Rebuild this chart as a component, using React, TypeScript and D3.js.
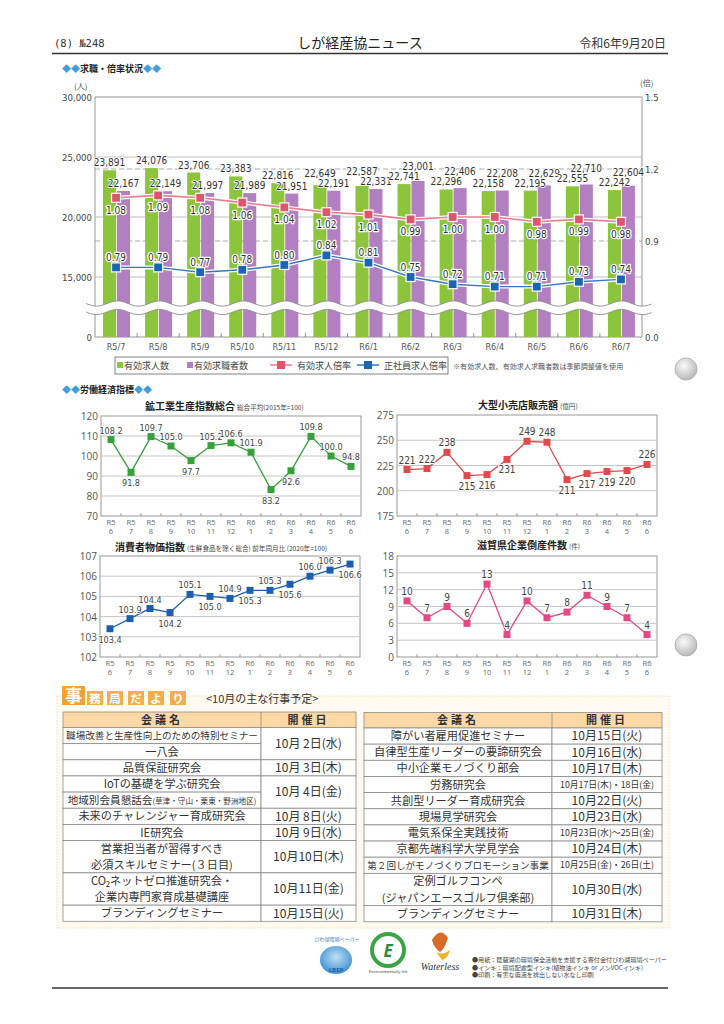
import React from "react";
import * as d3 from "d3";

// ---- 求職・倍率状況 ----
const months = ["R5/7", "R5/8", "R5/9", "R5/10", "R5/11", "R5/12", "R6/1", "R6/2", "R6/3", "R6/4", "R6/5", "R6/6", "R6/7"];
const jobOffers = [23891, 24076, 23706, 23383, 22816, 22649, 22587, 22741, 22296, 22158, 22195, 22555, 22242];
const jobSeekers = [22167, 22149, 21997, 21989, 21951, 22191, 22331, 23001, 22406, 22208, 22629, 22710, 22604];
const offerRatio = [1.08, 1.09, 1.08, 1.06, 1.04, 1.02, 1.01, 0.99, 1.0, 1.0, 0.98, 0.99, 0.98];
const regularRatio = [0.79, 0.79, 0.77, 0.78, 0.8, 0.84, 0.81, 0.75, 0.72, 0.71, 0.71, 0.73, 0.74];
const countTicks = [0, 15000, 20000, 25000, 30000];
const ratioTicks = [0, 0.9, 1.2, 1.5];

// ---- 労働経済指標 ----
const indexMonths = ["R5/6", "R5/7", "R5/8", "R5/9", "R5/10", "R5/11", "R5/12", "R6/1", "R6/2", "R6/3", "R6/4", "R6/5", "R6/6"];
const ipiValues = [108.2, 91.8, 109.7, 105.0, 97.7, 105.2, 106.6, 101.9, 83.2, 92.6, 109.8, 100.0, 94.8];
const retailValues = [221, 222, 238, 215, 216, 231, 249, 248, 211, 217, 219, 220, 226];
const cpiValues = [103.4, 103.9, 104.4, 104.2, 105.1, 105.0, 104.9, 105.3, 105.3, 105.6, 106.0, 106.3, 106.6];
const bankruptcyValues = [10, 7, 9, 6, 13, 4, 10, 7, 8, 11, 9, 7, 4];
const ipiTicks = [70, 80, 90, 100, 110, 120];
const retailTicks = [175, 200, 225, 250, 275];
const cpiTicks = [102, 103, 104, 105, 106, 107];
const bankruptcyTicks = [0, 3, 6, 9, 12, 15, 18];

// ---- 10月の主な行事予定 ----
const leftSchedule = [
  { names: ["職場改善と生産性向上のための特別セミナー", "一八会"], date: "10月 2日(水)" },
  { names: ["品質保証研究会"], date: "10月 3日(木)" },
  { names: ["IoTの基礎を学ぶ研究会", "地域別会員懇話会|(草津・守山・栗東・野洲地区)"], date: "10月 4日(金)" },
  { names: ["未来のチャレンジャー育成研究会"], date: "10月 8日(火)" },
  { names: ["IE研究会"], date: "10月 9日(水)" },
  { names: ["営業担当者が習得すべき\n必須スキルセミナー(３日目)"], date: "10月10日(木)" },
  { names: ["CO₂ネットゼロ推進研究会・\n企業内専門家育成基礎講座"], date: "10月11日(金)" },
  { names: ["ブランディングセミナー"], date: "10月15日(火)" },
];
const rightSchedule = [
  { names: ["障がい者雇用促進セミナー"], date: "10月15日(火)" },
  { names: ["自律型生産リーダーの要諦研究会"], date: "10月16日(水)" },
  { names: ["中小企業モノづくり部会"], date: "10月17日(木)" },
  { names: ["労務研究会"], date: "10月17日(木)・18日(金)" },
  { names: ["共創型リーダー育成研究会"], date: "10月22日(火)" },
  { names: ["現場見学研究会"], date: "10月23日(水)" },
  { names: ["電気系保全実践技術"], date: "10月23日(水)～25日(金)" },
  { names: ["京都先端科学大学見学会"], date: "10月24日(木)" },
  { names: ["第２回しがモノづくりプロモーション事業"], date: "10月25日(金)・26日(土)" },
  { names: ["定例ゴルフコンペ\n(ジャパンエースゴルフ倶楽部)"], date: "10月30日(水)" },
  { names: ["ブランディングセミナー"], date: "10月31日(木)" },
];

const JP = "'Noto Sans CJK JP','Noto Sans',sans-serif";
const NARROW = "'Liberation Sans Narrow','DejaVu Sans Condensed','Noto Sans',sans-serif";
const SANS = "'Open Sans','Noto Sans',sans-serif";

const fmt = d3.format(",");

const halo = { paintOrder: "stroke" as const, stroke: "#fff", strokeWidth: 2.5, strokeLinejoin: "round" as const };

function JobChart() {
  const L = 95, R = 642, T = 97, B = 337;
  const x = d3.scaleBand().domain(months).range([L, R]);
  const xi = d3.scaleBand().domain(["offer", "seek"]).range([8, 35]).paddingInner(0.06);
  const yL = d3.scaleLinear().domain([0, 12500, 30000]).range([B, 307, T]);
  const yR = d3.scaleLinear().domain([0, 0.6, 1.5]).range([B, 313, T]);
  const cx = (m: string) => (x(m) as number) + x.bandwidth() / 2;
  const ratioLine = d3.line<number>().x((_, i) => cx(months[i])).y((v) => yR(v));

  const waveXs = d3.range(86, 652.5, 1.5);
  const wy = (d: number) => 2.6 * Math.sin(((d - 86) / 42) * 2 * Math.PI);
  const gap = d3.area<number>().x((d) => d).y0((d) => 303.5 + wy(d)).y1((d) => 312 + wy(d));
  const waveTop = d3.line<number>().x((d) => d).y((d) => 303.5 + wy(d));
  const waveBot = d3.line<number>().x((d) => d).y((d) => 312 + wy(d));

  // bar label baselines with collision lift
  const labelY = months.map((_, i) => {
    let g = yL(jobOffers[i]) - 4;
    let p = yL(jobSeekers[i]) - 4;
    if (Math.abs(g - p) < 10) {
      if (jobOffers[i] >= jobSeekers[i]) g = p - 10;
      else p = g - 10;
    }
    return { g, p };
  });

  return (
    <g>
      <rect x={L} y={T} width={R - L} height={B - T} fill="#fff" stroke="#8a8a8a" strokeWidth={0.9} />
      {[15000, 20000, 25000].map((t) => (
        <line key={t} x1={L} x2={R} y1={yL(t)} y2={yL(t)} stroke="#b8b8b8" strokeWidth={0.9} />
      ))}
      {[0.9, 1.2].map((t) => (
        <line key={t} x1={L} x2={R} y1={yR(t)} y2={yR(t)} stroke="#a0a0a0" strokeWidth={0.9} strokeDasharray="5,3" />
      ))}
      {months.map((m, i) => (
        <g key={m}>
          <rect x={(x(m) as number) + (xi("offer") as number)} y={yL(jobOffers[i])} width={xi.bandwidth()} height={B - yL(jobOffers[i])} fill="#8cc43c" />
          <rect x={(x(m) as number) + (xi("seek") as number)} y={yL(jobSeekers[i])} width={xi.bandwidth()} height={B - yL(jobSeekers[i])} fill="#b27fc1" />
        </g>
      ))}
      {/* axis break */}
      <path d={gap(waveXs) as string} fill="#fff" />
      <path d={waveTop(waveXs) as string} fill="none" stroke="#8a8a8a" strokeWidth={0.9} />
      <path d={waveBot(waveXs) as string} fill="none" stroke="#8a8a8a" strokeWidth={0.9} />
      {/* x ticks */}
      {months.slice(1).map((m) => (
        <line key={m} x1={x(m)} x2={x(m)} y1={B} y2={B - 4} stroke="#777" strokeWidth={0.8} />
      ))}
      {/* bar labels */}
      {months.map((m, i) => (
        <g key={m} fontFamily={NARROW} fontSize={10} fill="#333" textAnchor="middle">
          <text x={(x(m) as number) + (xi("offer") as number) + xi.bandwidth() / 2} y={labelY[i].g} {...halo} strokeWidth={1.5}>
            {fmt(jobOffers[i])}
          </text>
          <text x={(x(m) as number) + (xi("seek") as number) + xi.bandwidth() / 2} y={labelY[i].p} {...halo} strokeWidth={1.5}>
            {fmt(jobSeekers[i])}
          </text>
        </g>
      ))}
      {/* ratio lines */}
      <path d={ratioLine(offerRatio) as string} fill="none" stroke="#fff" strokeWidth={4} />
      <path d={ratioLine(offerRatio) as string} fill="none" stroke="#e97b8f" strokeWidth={1.6} />
      <path d={ratioLine(regularRatio) as string} fill="none" stroke="#fff" strokeWidth={4} />
      <path d={ratioLine(regularRatio) as string} fill="none" stroke="#3478c0" strokeWidth={1.4} />
      {months.map((m, i) => (
        <g key={m}>
          <rect x={cx(m) - 4.5} y={yR(offerRatio[i]) - 4.5} width={9} height={9} fill="#e2536d" stroke="#fff" strokeWidth={1.2} />
          <rect x={cx(m) - 4.5} y={yR(regularRatio[i]) - 4.5} width={9} height={9} fill="#1b66b4" stroke="#fff" strokeWidth={1.2} />
          <text x={cx(m)} y={yR(offerRatio[i]) + 16} textAnchor="middle" fontFamily={NARROW} fontSize={10} fill="#333" {...halo}>
            {offerRatio[i].toFixed(2)}
          </text>
          <text x={cx(m)} y={yR(regularRatio[i]) - 6.5} textAnchor="middle" fontFamily={NARROW} fontSize={10} fill="#333" {...halo}>
            {regularRatio[i].toFixed(2)}
          </text>
        </g>
      ))}
      {/* axes labels */}
      {countTicks.map((t) => (
        <text key={t} x={L - 3} y={yL(t) + 3.5} textAnchor="end" fontFamily={NARROW} fontSize={9.5} fill="#444">
          {fmt(t)}
        </text>
      ))}
      {ratioTicks.map((t) => (
        <text key={t} x={R + 3} y={yR(t) + 3.5} fontFamily={NARROW} fontSize={9.5} fill="#444">
          {t.toFixed(1)}
        </text>
      ))}
      <text x={74} y={89} fontSize={8} fill="#555" fontFamily={JP}>(人)</text>
      <text x={640} y={86} fontSize={8} fill="#555" fontFamily={JP}>(倍)</text>
      {months.map((m) => (
        <text key={m} x={cx(m)} y={350} textAnchor="middle" fontFamily={NARROW} fontSize={9} fill="#555">
          {m}
        </text>
      ))}
      {/* legend */}
      <rect x={115} y={357} width={333} height={17} fill="#fff" stroke="#777" strokeWidth={0.9} />
      <g fontFamily={JP} fontSize={9} fill="#444">
        <rect x={117} y={362} width={6} height={6} fill="#8cc43c" />
        <text x={124} y={368.5}>有効求人数</text>
        <rect x={187} y={362} width={6} height={6} fill="#b27fc1" />
        <text x={194} y={368.5}>有効求職者数</text>
        <line x1={270} x2={292} y1={365} y2={365} stroke="#e97b8f" strokeWidth={1.5} />
        <rect x={277} y={361} width={8} height={8} fill="#e2536d" />
        <text x={297} y={368.5}>有効求人倍率</text>
        <line x1={357} x2={379} y1={365} y2={365} stroke="#3478c0" strokeWidth={1.5} />
        <rect x={364} y={361} width={8} height={8} fill="#1b66b4" />
        <text x={384} y={368.5}>正社員求人倍率</text>
      </g>
      <text x={453} y={368.5} fontFamily={JP} fontSize={7.1} fill="#555">※有効求人数、有効求人求職者数は季節調整値を使用</text>
    </g>
  );
}

type LineProps = {
  values: number[];
  L: number; R: number; T: number; B: number;
  domain: [number, number];
  ticks: number[];
  color: string;
  title: string; sub: string; tx: number; ty: number;
  below: number[];
  digits: number;
};

function IndexChart({ values, L, R, T, B, domain, ticks, color, title, sub, tx, ty, below, digits }: LineProps) {
  const x = d3.scalePoint().domain(indexMonths).range([L + 10, R - 10]);
  const y = d3.scaleLinear().domain(domain).range([B, T]);
  const line = d3.line<number>().x((_, i) => x(indexMonths[i]) as number).y((v) => y(v));
  const step = x.step();
  return (
    <g>
      <text x={tx} y={ty} fontFamily={JP} fill="#222">
        <tspan fontSize={10} fontWeight="bold">{title}</tspan>
        <tspan fontSize={6.6} fill="#444" dx={2}>{sub}</tspan>
      </text>
      <rect x={L} y={T} width={R - L} height={B - T} fill="#fff" stroke="#8d8d8d" strokeWidth={0.9} />
      {ticks.slice(1, -1).map((t) => (
        <line key={t} x1={L} x2={R} y1={y(t)} y2={y(t)} stroke="#bdbdbd" strokeWidth={0.9} />
      ))}
      {ticks.map((t) => (
        <text key={t} x={L - 3} y={y(t) + 4} textAnchor="end" fontFamily={SANS} fontSize={10} fill="#555">
          {t}
        </text>
      ))}
      {indexMonths.slice(1).map((m) => (
        <line key={m} x1={(x(m) as number) - step / 2} x2={(x(m) as number) - step / 2} y1={B} y2={B - 3} stroke="#888" strokeWidth={0.8} />
      ))}
      {indexMonths.map((m) => {
        const [era, mo] = m.split("/");
        return (
          <g key={m} fontFamily={SANS} fontSize={7.5} fill="#666" textAnchor="middle">
            <text x={x(m)} y={B + 8.5}>{era}</text>
            <text x={x(m)} y={B + 18}>{mo}</text>
          </g>
        );
      })}
      <path d={line(values) as string} fill="none" stroke={color} strokeWidth={1.3} />
      {values.map((v, i) => (
        <rect key={i} x={(x(indexMonths[i]) as number) - 3.5} y={y(v) - 3.5} width={7} height={7} fill={color} />
      ))}
      {values.map((v, i) => (
        <text
          key={i}
          x={x(indexMonths[i]) as number}
          y={below.includes(i) ? y(v) + 14 : y(v) - 6}
          textAnchor="middle"
          fontFamily={NARROW}
          fontSize={digits ? 9 : 10}
          fill="#444"
          {...halo}
          strokeWidth={1.5}
        >
          {v.toFixed(digits)}
        </text>
      ))}
    </g>
  );
}

const units = (s: string) =>
  Array.from(s).reduce((a, c) => a + (c === " " ? 0.3 : c.charCodeAt(0) < 0x2000 ? 0.58 : 1), 0);

type Sched = { names: string[]; date: string }[];

function ScheduleTable({ data, x0, nameW, dateW, top }: { data: Sched; x0: number; nameW: number; dateW: number; top: number }) {
  const headH = 15.5;
  const lineH = 16.15;
  let yy = top + headH;
  const cells: React.ReactNode[] = [];
  data.forEach((g, gi) => {
    const gTop = yy;
    g.names.forEach((n, ni) => {
      const lines = n.split("\n");
      const h = lines.length * lineH;
      cells.push(<rect key={`n${gi}-${ni}`} x={x0} y={yy} width={nameW} height={h} fill="#fff" stroke="#8a8a8a" strokeWidth={0.8} />);
      const [main, note] = lines[0].split("|");
      if (note) {
        const fs = 10.6;
        cells.push(
          <text key={`t${gi}-${ni}`} x={x0 + nameW / 2} y={yy + h / 2 + 4} textAnchor="middle" fontFamily={JP} fill="#333">
            <tspan fontSize={fs}>{main}</tspan>
            <tspan fontSize={7.6}>{note}</tspan>
          </text>
        );
      } else {
        const fs = Math.min(11.2, ...lines.map((l) => (nameW - 6) / units(l)));
        lines.forEach((l, li) => {
          cells.push(
            <text key={`t${gi}-${ni}-${li}`} x={x0 + nameW / 2} y={yy + lineH * li + lineH / 2 + fs * 0.36} textAnchor="middle" fontFamily={JP} fontSize={fs} fill="#333">
              {l}
            </text>
          );
        });
      }
      yy += h;
    });
    const gh = yy - gTop;
    const dfs = Math.min(12, (dateW - 6) / units(g.date));
    cells.push(<rect key={`d${gi}`} x={x0 + nameW} y={gTop} width={dateW} height={gh} fill="#fff" stroke="#8a8a8a" strokeWidth={0.8} />);
    cells.push(
      <text key={`dt${gi}`} x={x0 + nameW + dateW / 2} y={gTop + gh / 2 + dfs * 0.36} textAnchor="middle" fontFamily={JP} fontSize={dfs} fill="#333">
        {g.date}
      </text>
    );
  });
  return (
    <g>
      <rect x={x0} y={top} width={nameW + dateW} height={headH} fill="#fcd9a4" stroke="#8a8a8a" strokeWidth={0.8} />
      <line x1={x0 + nameW} x2={x0 + nameW} y1={top} y2={top + headH} stroke="#8a8a8a" strokeWidth={0.8} />
      <text x={x0 + nameW / 2} y={top + 11.5} textAnchor="middle" fontFamily={JP} fontSize={11} fontWeight="bold" fill="#333" letterSpacing={3}>
        会議名
      </text>
      <text x={x0 + nameW + dateW / 2} y={top + 11.5} textAnchor="middle" fontFamily={JP} fontSize={11} fontWeight="bold" fill="#333" letterSpacing={3}>
        開催日
      </text>
      {cells}
    </g>
  );
}

function SectionHead({ x, y, label }: { x: number; y: number; label: string }) {
  return (
    <text x={x} y={y} fontFamily={JP} fontSize={9} fontWeight="bold" fill="#222">
      <tspan fill="#3f9edb">◆◆</tspan>
      <tspan>{label}</tspan>
      <tspan fill="#3f9edb">◆◆</tspan>
    </text>
  );
}

export default function App() {
  const tabChars = ["務", "局", "だ", "よ", "り"];
  const tabX = [87, 107, 128, 148, 170];
  return (
    <svg width={724} height={1024} viewBox="0 0 724 1024" style={{ position: "absolute", left: 0, top: 0, background: "#fff" }}>
      <defs>
        <radialGradient id="hole" cx="40%" cy="35%" r="70%">
          <stop offset="0%" stopColor="#fafafa" />
          <stop offset="100%" stopColor="#b5b5b5" />
        </radialGradient>
        <radialGradient id="lbep" cx="50%" cy="40%" r="60%">
          <stop offset="0%" stopColor="#bfe0f5" />
          <stop offset="100%" stopColor="#3d8fd0" />
        </radialGradient>
      </defs>
      <rect width={724} height={1024} fill="#fff" />

      {/* page header */}
      <text x={54} y={47} fontFamily="'DejaVu Sans Mono',monospace" fontSize={10.5} fill="#333">(8) №248</text>
      <text x={360} y={48} textAnchor="middle" fontFamily={JP} fontSize={14} fill="#222">しが経産協ニュース</text>
      <text x={666} y={48} textAnchor="end" fontFamily={JP} fontSize={12} fill="#333">令和6年9月20日</text>
      <line x1={52} x2={668} y1={53.5} y2={53.5} stroke="#333" strokeWidth={1.6} />

      <SectionHead x={62} y={72} label="求職・倍率状況" />
      <JobChart />

      <SectionHead x={62} y={393} label="労働経済指標" />
      <IndexChart values={ipiValues} L={101} R={361} T={416} B={516} domain={[70, 120]} ticks={ipiTicks} color="#36a03a"
        title="鉱工業生産指数総合" sub="総合平均(2015年=100)" tx={145} ty={410} below={[1, 4, 8, 9]} digits={1} />
      <IndexChart values={retailValues} L={397} R={657} T={415} B={516} domain={[175, 275]} ticks={retailTicks} color="#e04a4c"
        title="大型小売店販売額" sub="(億円)" tx={478} ty={409} below={[3, 4, 5, 8, 9, 10, 11]} digits={0} />
      <IndexChart values={cpiValues} L={100} R={360} T={556} B={657} domain={[102, 107]} ticks={cpiTicks} color="#1d5fae"
        title="消費者物価指数" sub="(生鮮食品を除く総合) 前年同月比 (2020年=100)" tx={115} ty={551} below={[0, 3, 5, 7, 9, 12]} digits={1} />
      <IndexChart values={bankruptcyValues} L={397} R={657} T={556} B={657} domain={[0, 18]} ticks={bankruptcyTicks} color="#e24a86"
        title="滋賀県企業倒産件数" sub="(件)" tx={477} ty={549} below={[]} digits={0} />

      {/* 事務局だより */}
      <rect x={57} y={696} width={612} height={232} fill="#fffaf0" stroke="#efdcb4" strokeWidth={0.9} strokeDasharray="1.5,1.5" />
      <rect x={62} y={686} width={23} height={19} fill="#f0a23a" />
      <text x={73.5} y={702} textAnchor="middle" fontFamily={JP} fontSize={17} fontWeight="bold" fill="#fff">事</text>
      {tabChars.map((c, i) => (
        <g key={c}>
          <rect x={tabX[i]} y={691} width={16} height={14} fill="#f3ad4c" />
          <text x={tabX[i] + 8} y={702.5} textAnchor="middle" fontFamily={JP} fontSize={11.5} fontWeight="bold" fill="#fff">{c}</text>
        </g>
      ))}
      <text x={206} y={703} fontFamily={JP} fontSize={11} fill="#333">&lt;10月の主な行事予定&gt;</text>
      <ScheduleTable data={leftSchedule} x0={63} nameW={198} dateW={95} top={712} />
      <ScheduleTable data={rightSchedule} x0={364} nameW={188} dateW={110} top={712.5} />

      {/* footer */}
      <g>
        <ellipse cx={336} cy={960} rx={16} ry={14} fill="url(#lbep)" />
        <text x={336} y={972} textAnchor="middle" fontFamily={SANS} fontSize={6} fontWeight="bold" fill="#1d5fae">LBEP</text>
        <text x={337} y={941} textAnchor="middle" fontFamily={JP} fontSize={5} fill="#3d7fc0">びわ湖環境ペーパー</text>
        <circle cx={388} cy={950} r={16} fill="none" stroke="#3aa345" strokeWidth={4} />
        <text x={388} y={957} textAnchor="middle" fontFamily={SANS} fontSize={17} fontWeight="bold" fontStyle="italic" fill="#2b8a3a">E</text>
        <text x={388} y={973} textAnchor="middle" fontFamily={SANS} fontSize={4.2} fill="#333">Environmentally Ink</text>
        <path d="M432,940 q8,-14 16,-2 q-4,12 -8,14 q-6,-4 -8,-12z" fill="#d86a2a" />
        <path d="M436,952 q6,4 14,-2 q-2,8 -8,10z" fill="#f0b030" />
        <text x={440} y={970} textAnchor="middle" fontFamily="serif" fontSize={10} fontStyle="italic" fill="#333">Waterless</text>
      </g>
      <g fontFamily={JP} fontSize={6.1} fill="#444">
        <text x={472} y={962}>●用紙：琵琶湖の環境保全活動を支援する寄付金付びわ湖環境ペーパー</text>
        <text x={472} y={969.5}>●インキ：環境配慮型インキ(植物油インキ or ノンVOCインキ)</text>
        <text x={472} y={977}>●印刷：有害な廃液を排出しない水なし印刷</text>
      </g>
      <line x1={52} x2={668} y1={988} y2={988} stroke="#333" strokeWidth={1.4} />

      {/* binder holes */}
      <circle cx={686} cy={369} r={11} fill="url(#hole)" stroke="#aaa" strokeWidth={0.8} />
      <circle cx={686} cy={645} r={11} fill="url(#hole)" stroke="#aaa" strokeWidth={0.8} />
    </svg>
  );
}
